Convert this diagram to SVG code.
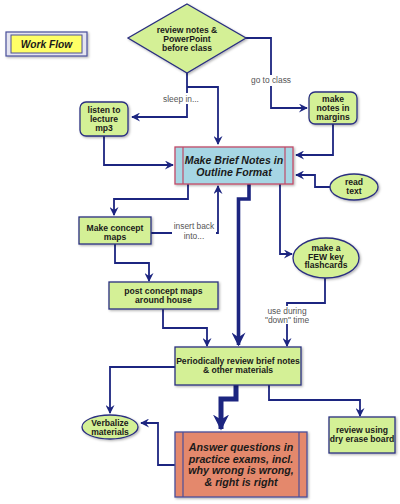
<svg xmlns="http://www.w3.org/2000/svg" width="400" height="504" viewBox="0 0 400 504">
<defs>
<filter id="sh" x="-20%" y="-20%" width="140%" height="140%">
<feDropShadow dx="1.2" dy="1.2" stdDeviation="1" flood-color="#000" flood-opacity="0.3"/>
</filter>
<marker id="ar" viewBox="0 0 10 10" refX="9" refY="5" markerWidth="10" markerHeight="9" markerUnits="userSpaceOnUse" orient="auto">
<path d="M0,0 L10,5 L0,10 L3.5,5 z" fill="#1c2580"/>
</marker>
<marker id="arb" viewBox="0 0 10 10" refX="9" refY="5" markerWidth="14" markerHeight="14" markerUnits="userSpaceOnUse" orient="auto">
<path d="M0,0 L10,5 L0,10 L3.5,5 z" fill="#1c2580"/>
</marker>
<marker id="arc" viewBox="0 0 10 10" refX="9" refY="5" markerWidth="16" markerHeight="18" markerUnits="userSpaceOnUse" orient="auto">
<path d="M0,0 L10,5 L0,10 L3,5 z" fill="#1c2580"/>
</marker>
</defs>
<style>
.n{fill:#d4f096;stroke:#2a2f80;stroke-width:1.3;filter:url(#sh)}
.t{font-family:"Liberation Sans",Arial,sans-serif;font-weight:bold;font-size:8.6px;fill:#1a1a1a;text-anchor:middle}
.bi{font-family:"Liberation Sans",Arial,sans-serif;font-weight:bold;font-style:italic;fill:#1a1a1a;text-anchor:middle}
.lb{font-family:"Liberation Sans",Arial,sans-serif;font-size:8.4px;fill:#555;text-anchor:middle}
.c{fill:none;stroke:#1c2580;stroke-width:1.8;marker-end:url(#ar)}
.ck{fill:none;stroke:#1c2580;stroke-width:3.6;marker-end:url(#arb)}
.ck2{fill:none;stroke:#1c2580;stroke-width:5;marker-end:url(#arc)}
</style>
<rect width="400" height="504" fill="#ffffff"/>

<g id="connectors">
<path class="c" d="M187,73 V117 H132"/>
<path class="c" d="M187,87 H218 V144"/>
<path class="c" d="M245,38 H271 V108 H307"/>
<path class="c" d="M333,124 V155 H296"/>
<path class="c" d="M104,136 V165 H173"/>
<path class="c" d="M330,187 H315 V175 H296"/>
<path class="c" d="M188,184 V199 H114 V215"/>
<path class="c" d="M151,233 H218 V186"/>
<path class="c" d="M280,184 V254 H292"/>
<path class="ck" d="M249,184 V199 H238.5 V345"/>
<path class="c" d="M115,244 V263 H149 V281"/>
<path class="c" d="M163,309 V328 H207 V346"/>
<path class="c" d="M325,278 V303 H287 V346"/>
<path class="c" d="M175,367 H110 V413"/>
<path class="ck2" d="M236,385 V399 H221 V429"/>
<path class="c" d="M269,385 V400 H360 V416"/>
<path class="c" d="M175,465 H158 V423 H141"/>
<rect x="165" y="93" width="32" height="11" fill="#ffffff"/>
<text class="lb" x="181" y="102">sleep in...</text>
<rect x="250" y="75" width="42" height="11" fill="#ffffff"/>
<text class="lb" x="271" y="83">go to class</text>
<rect x="172" y="221" width="44" height="20" fill="#ffffff"/>
<text class="lb" x="194" y="229">insert back</text>
<text class="lb" x="194" y="239">into...</text>
<rect x="266" y="306" width="42" height="18" fill="#ffffff"/>
<text class="lb" x="287" y="314">use during</text>
<text class="lb" x="287" y="323">"down" time</text>
</g>

<g id="title">
<rect x="6" y="32" width="81" height="24" fill="#e4e4f0" stroke="#4a4f9a" stroke-width="1.2" filter="url(#sh)"/>
<rect x="11" y="35" width="71" height="18" fill="#ffff66" stroke="#4a4f9a" stroke-width="1"/>
<text class="bi" x="46.5" y="48" font-size="10.2">Work Flow</text>
</g>

<g id="review-notes">
<polygon class="n" points="187,4 246,38 187,73 128,38"/>
<text class="t" x="187" y="33">review notes &amp;</text>
<text class="t" x="187" y="42">PowerPoint</text>
<text class="t" x="187" y="51">before class</text>
</g>

<g id="listen">
<rect class="n" x="80" y="102" width="48" height="34" rx="6"/>
<text class="t" x="104" y="113">listen to</text>
<text class="t" x="104" y="122">lecture</text>
<text class="t" x="104" y="131">mp3</text>
</g>

<g id="margins">
<rect class="n" x="309" y="92" width="48" height="32" rx="6"/>
<text class="t" x="333" y="102">make</text>
<text class="t" x="333" y="111">notes in</text>
<text class="t" x="333" y="120">margins</text>
</g>

<g id="brief-notes">
<rect x="175" y="147" width="118" height="37" fill="#a6d6e4" stroke="#c04a68" stroke-width="1.3" filter="url(#sh)"/>
<line x1="183" y1="147" x2="183" y2="184" stroke="#c04a68" stroke-width="1.2"/>
<line x1="285" y1="147" x2="285" y2="184" stroke="#c04a68" stroke-width="1.2"/>
<text class="bi" x="234" y="164" font-size="10.6">Make Brief Notes in</text>
<text class="bi" x="234" y="176" font-size="10.6">Outline Format</text>
</g>

<g id="read-text">
<ellipse class="n" cx="354" cy="187" rx="24" ry="13"/>
<text class="t" x="354" y="185">read</text>
<text class="t" x="354" y="194">text</text>
</g>

<g id="concept-maps">
<rect class="n" x="79" y="217" width="72" height="27"/>
<text class="t" x="115" y="231">Make concept</text>
<text class="t" x="115" y="240">maps</text>
</g>

<g id="flashcards">
<ellipse class="n" cx="326" cy="258" rx="33" ry="20"/>
<text class="t" x="326" y="251">make a</text>
<text class="t" x="326" y="259.5">FEW key</text>
<text class="t" x="326" y="268">flashcards</text>
</g>

<g id="post-maps">
<rect class="n" x="109" y="282" width="109" height="27"/>
<text class="t" x="163.5" y="294">post concept maps</text>
<text class="t" x="163.5" y="302.5">around house</text>
</g>

<g id="periodic">
<rect class="n" x="175" y="347" width="126" height="38"/>
<text class="t" x="238" y="364">Periodically review brief notes</text>
<text class="t" x="238" y="373">&amp; other materials</text>
</g>

<g id="verbalize">
<ellipse class="n" cx="110" cy="427" rx="28" ry="12"/>
<text class="t" x="110" y="426">Verbalize</text>
<text class="t" x="110" y="435">materials</text>
</g>

<g id="answer">
<rect x="175" y="432" width="132" height="65" fill="#e4886c" stroke="#4a4f9a" stroke-width="1.3" filter="url(#sh)"/>
<line x1="183" y1="432" x2="183" y2="497" stroke="#4a4f9a" stroke-width="1.2"/>
<line x1="299" y1="432" x2="299" y2="497" stroke="#4a4f9a" stroke-width="1.2"/>
<text class="bi" x="241" y="451" font-size="10.7">Answer questions in</text>
<text class="bi" x="241" y="462.5" font-size="10.7">practice exams, incl.</text>
<text class="bi" x="241" y="474" font-size="10.7">why wrong is wrong,</text>
<text class="bi" x="241" y="485.5" font-size="10.7">&amp; right is right</text>
</g>

<g id="dry-erase">
<rect class="n" x="329" y="417" width="66" height="36"/>
<text class="t" x="362" y="433">review using</text>
<text class="t" x="362" y="442">dry erase board</text>
</g>
</svg>
